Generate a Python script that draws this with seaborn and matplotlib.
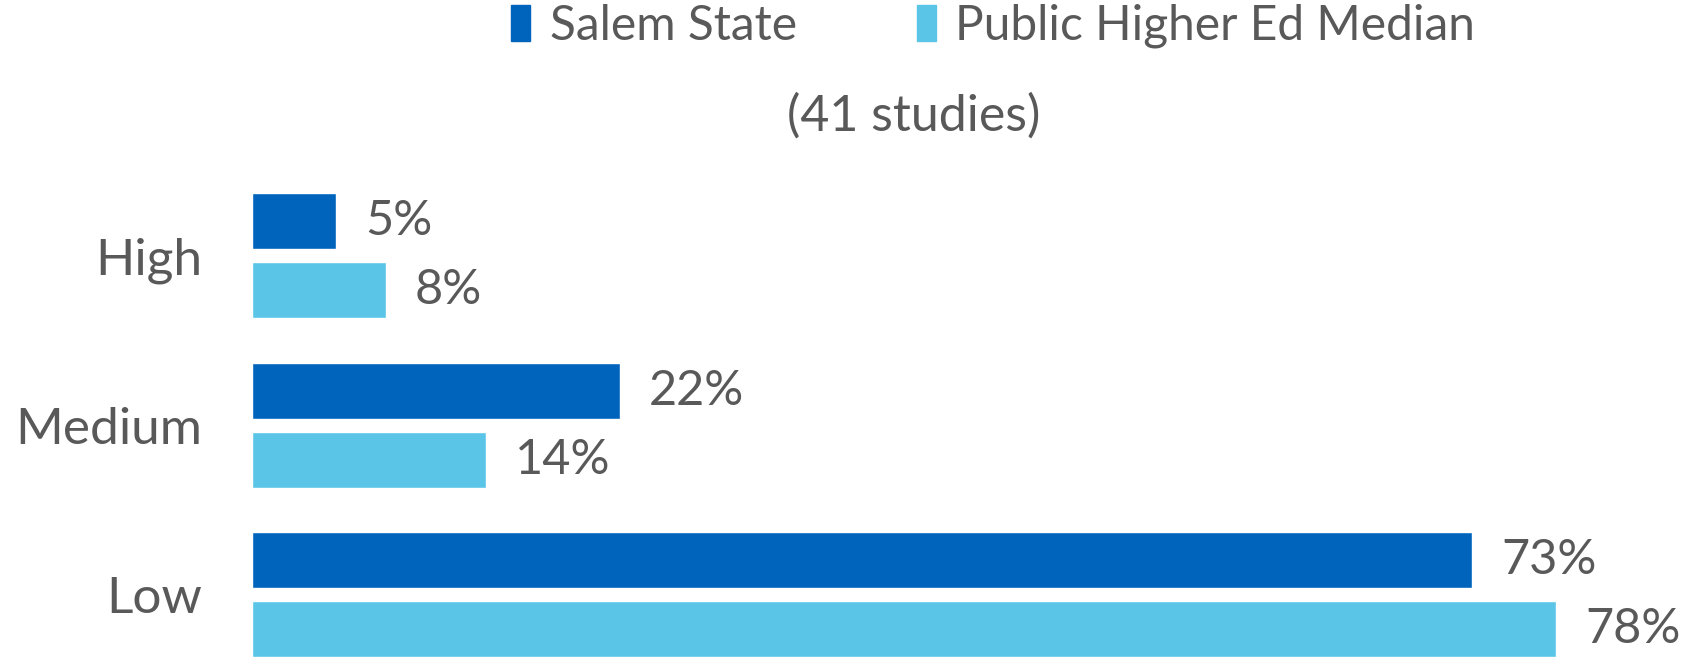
import pandas as pd
import numpy as np
import matplotlib
matplotlib.use('Agg')
import matplotlib.pyplot as plt
import seaborn as sns

# values
levels = ['High', 'Medium', 'Low']
salem_state = [5, 22, 73]
public_median = [8, 14, 78]
series_names = ['Salem State', 'Public Higher Ed Median']
subtitle = '(41 studies)'

dark_blue = '#0064BC'
light_blue = '#5BC5E7'
grey_text = '#595959'

df = pd.DataFrame({
    'Level': levels * 2,
    'Share': salem_state + public_median,
    'Group': [series_names[0]] * 3 + [series_names[1]] * 3,
})

sns.set_theme(style='white')
plt.rcParams['font.family'] = ['Lato', 'DejaVu Sans']

fig = plt.figure(figsize=(16.91, 6.64), dpi=100)
# axes placed so the bars land where they sit in the reference
ax = fig.add_axes([252 / 1691, 0.0, 1 - 252 / 1691, 1 - 170.8 / 664])

sns.barplot(data=df, y='Level', x='Share', hue='Group', order=levels,
            hue_order=series_names, palette=[dark_blue, light_blue],
            orient='h', width=0.816, gap=0.19, saturation=1,
            legend=False, ax=ax)

# 78% bar should end around x=1556 px
ax.set_xlim(0, 78 * (1691 - 252) / (1556 - 252))
ax.set_ylim(2.409, -0.5)

for cont in ax.containers:
    ax.bar_label(cont, labels=[f'{v:.0f}%' for v in cont.datavalues],
                 padding=21, fontsize=35, color=grey_text)

ax.set_xlabel('')
ax.set_ylabel('')
ax.set_xticks([])
ax.tick_params(axis='y', length=0, pad=36, labelsize=37, labelcolor=grey_text)
sns.despine(ax=ax, left=True, bottom=True, top=True, right=True)

# legend at top
handles = [plt.Rectangle((0, 0), 1, 1, color=c) for c in (dark_blue, light_blue)]
fig.legend(handles, series_names, loc='center', bbox_to_anchor=(993 / 1691, 1 - 26 / 664),
           ncol=2, frameon=False, fontsize=34.5, labelcolor=grey_text,
           handlelength=0.4, handleheight=0.8, handletextpad=0.4, columnspacing=2.5)

fig.text(914 / 1691, 1 - 116 / 664, subtitle, ha='center', va='center',
         fontsize=36, color=grey_text)

fig.savefig('out.png', dpi=100)
